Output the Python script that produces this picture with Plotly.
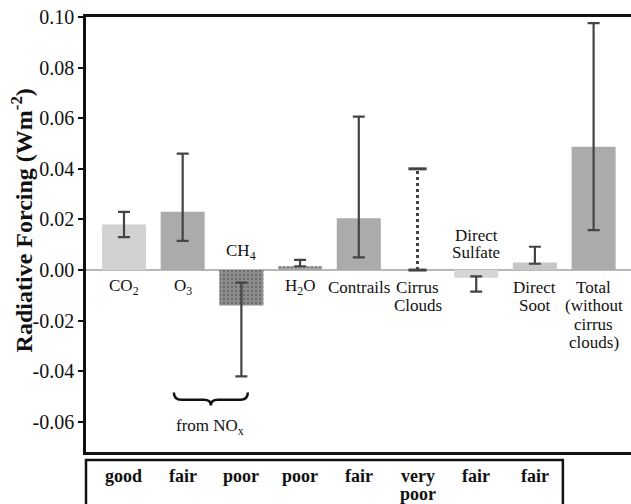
import plotly.graph_objects as go

# ---------------- data ----------------
categories = ["CO2", "O3", "CH4", "H2O", "Contrails", "Cirrus Clouds",
              "Direct Sulfate", "Direct Soot", "Total (without cirrus clouds)"]
label_lines = [["CO<sub>2</sub>"], ["O<sub>3</sub>"], ["CH<sub>4</sub>"], ["H<sub>2</sub>O"],
               ["Contrails"], ["Cirrus", "Clouds"], ["Direct", "Sulfate"],
               ["Direct", "Soot"], ["Total", "(without", "cirrus", "clouds)"]]
label_above = [False, False, True, False, False, False, True, False, False]

values = [0.018, 0.023, -0.014, 0.0015, 0.0205, None, -0.003, 0.003, 0.0487]
err_low = [0.013, 0.0115, -0.042, 0.0015, 0.005, 0.0, -0.0085, 0.0025, 0.0158]
err_high = [0.023, 0.046, -0.005, 0.004, 0.0606, 0.040, -0.0025, 0.0092, 0.0976]
bar_colors = ["#d2d2d2", "#ababab", "#8e8e8e", "#a6a6a6", "#ababab", "#ffffff",
              "#d6d6d6", "#c6c6c6", "#ababab"]
bar_patterns = ["", "", ".", ".", "", "", "", "", ""]

quality_lines = [["good"], ["fair"], ["poor"], ["poor"], ["fair"], ["very", "poor"], ["fair"], ["fair"]]

ytick_vals = [-0.06, -0.04, -0.02, 0.00, 0.02, 0.04, 0.06, 0.08, 0.10]
ytick_text = ["-0.06", "-0.04", "-0.02", "0.00", "0.02", "0.04", "0.06", "0.08", "0.10"]

FONT = "Liberation Serif"
x = list(range(len(categories)))

fig = go.Figure()

# bars (cirrus has no bar)
bar_idx = [i for i, v in enumerate(values) if v is not None]
fig.add_trace(go.Bar(
    x=[x[i] for i in bar_idx],
    y=[values[i] for i in bar_idx],
    width=0.75,
    marker=dict(
        color=[bar_colors[i] for i in bar_idx],
        line=dict(width=0),
        pattern=dict(shape=[bar_patterns[i] for i in bar_idx],
                     fgcolor="#5e5e5e", size=4, solidity=0.25),
    ),
    error_y=dict(
        type="data", symmetric=False,
        array=[err_high[i] - values[i] for i in bar_idx],
        arrayminus=[values[i] - err_low[i] for i in bar_idx],
        color="#444444", thickness=2.2, width=6,
    ),
    hoverinfo="skip", showlegend=False,
))

# cirrus clouds dotted uncertainty range
ci = categories.index("Cirrus Clouds")
fig.add_trace(go.Scatter(
    x=[x[ci], x[ci]], y=[err_low[ci], err_high[ci]],
    mode="lines+markers",
    line=dict(color="#444444", width=3, dash="dot"),
    marker=dict(symbol="line-ew", size=13, line=dict(color="#444444", width=3)),
    hoverinfo="skip", showlegend=False,
))

annotations = []
# category labels
for i, lines in enumerate(label_lines):
    for k, ln in enumerate(lines):
        shift = (18 + 16.5 * (len(lines) - 1 - k)) if label_above[i] else -(17 + 18.5 * k)
        annotations.append(dict(x=x[i], y=0, xref="x", yref="y", text=ln,
                                showarrow=False, yanchor="middle", yshift=shift,
                                borderpad=0,
                                font=dict(family=FONT, size=17, color="#111")))

# "from NOx" text under brace
annotations.append(dict(x=1.47, y=-0.062, xref="x", yref="y",
                        text="from NO<sub>x</sub>", showarrow=False,
                        font=dict(family=FONT, size=17, color="#111")))

# y axis title
annotations.append(dict(x=-0.117, y=0.533, xref="paper", yref="paper",
                        text="<b>Radiative Forcing (Wm<sup>-2</sup>)</b>",
                        textangle=-90, showarrow=False, xanchor="center", yanchor="middle",
                        font=dict(family=FONT, size=24, color="#111")))

# quality table labels
for i, lines in enumerate(quality_lines):
    for k, ln in enumerate(lines):
        annotations.append(dict(x=x[i], y=-0.0552 - 0.042 * k, xref="x", yref="paper",
                                text="<b>" + ln + "</b>", showarrow=False, yanchor="middle",
                                borderpad=0,
                                font=dict(family=FONT, size=18, color="#111")))

shapes = [
    # brace under O3 and CH4
    dict(type="path", xref="x", yref="y",
         path=("M 0.85,-0.0484 Q 0.85,-0.0513 0.98,-0.0513 L 1.36,-0.0513 "
               "Q 1.48,-0.0513 1.48,-0.0535 Q 1.48,-0.0513 1.60,-0.0513 "
               "L 1.98,-0.0513 Q 2.11,-0.0513 2.11,-0.0484"),
         line=dict(color="#111", width=2.5)),
    # quality table box
    dict(type="path", xref="paper", yref="paper",
         path="M 0,-0.2 L 0,-0.0184 L 0.875,-0.0184 L 0.875,-0.2",
         line=dict(color="#111", width=2.5)),
]

fig.update_layout(
    width=631, height=504,
    margin=dict(l=86, r=0, t=17, b=52),
    paper_bgcolor="white", plot_bgcolor="white",
    font=dict(family=FONT),
    bargap=0.25,
    annotations=annotations,
    shapes=shapes,
    xaxis=dict(range=[-0.647, 8.637], showticklabels=False, ticks="",
               showgrid=False, zeroline=False, showline=True, mirror=True,
               linecolor="#111", linewidth=2.5, fixedrange=True),
    yaxis=dict(range=[-0.0719, 0.10], tickvals=ytick_vals, ticktext=ytick_text,
               ticks="outside", ticklen=5, tickwidth=2, tickcolor="#111",
               showgrid=False, zeroline=True, zerolinecolor="#b8b8b8", zerolinewidth=2,
               showline=True, mirror=False, linecolor="#111", linewidth=2.5,
               tickfont=dict(family=FONT, size=20, color="#111"), fixedrange=True),
)

fig.write_html("out.html", config={"displayModeBar": False},
               post_script="document.body.style.margin='0';document.body.style.overflow='hidden';")
